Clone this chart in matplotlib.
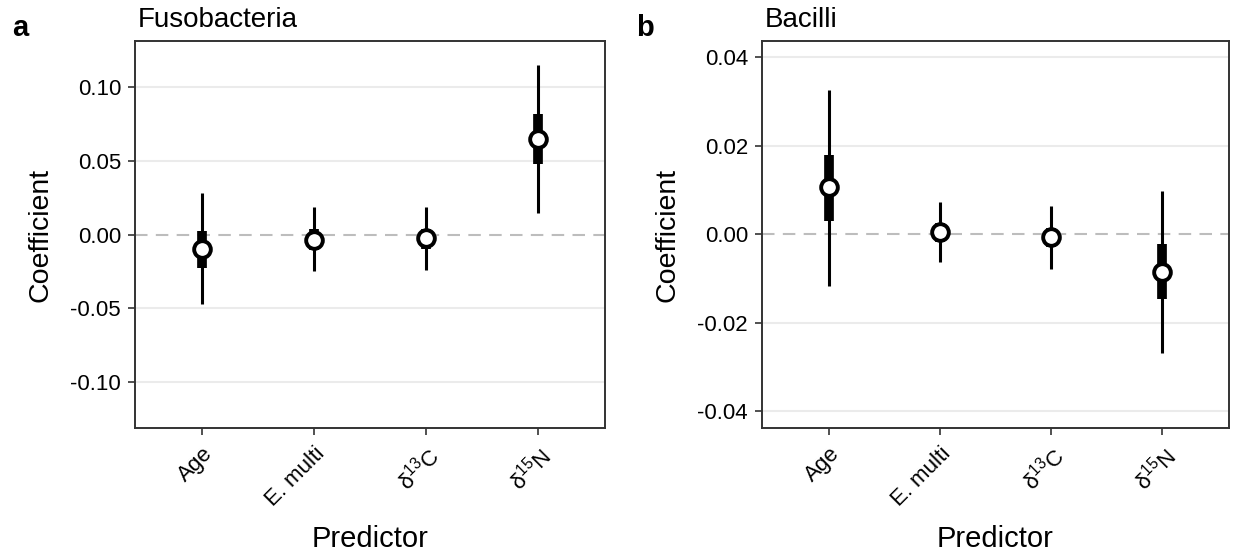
import matplotlib
matplotlib.use("Agg")
import matplotlib.pyplot as plt

plt.rcParams['font.family'] = ['Liberation Sans', 'DejaVu Sans']
plt.rcParams['mathtext.default'] = 'regular'

# predictors (x axis)
predictors = ['Age', 'E. multi', r'δ$^{13}$C', r'δ$^{15}$N']

# panel a: Fusobacteria
fuso_mid = [-0.0098, -0.0034, -0.0025, 0.0652]
fuso_lo50 = [-0.0225, -0.0107, -0.0095, 0.0482]
fuso_hi50 = [0.0024, 0.0040, 0.0040, 0.0822]
fuso_lo95 = [-0.0474, -0.0249, -0.0238, 0.0147]
fuso_hi95 = [0.0279, 0.0188, 0.0188, 0.1155]

# panel b: Bacilli
baci_mid = [0.0106, 0.0005, -0.0007, -0.0085]
baci_lo50 = [0.0031, -0.0017, -0.0029, -0.0147]
baci_hi50 = [0.0179, 0.0025, 0.0014, -0.0023]
baci_lo95 = [-0.0116, -0.0063, -0.0078, -0.0269]
baci_hi95 = [0.0326, 0.0074, 0.0065, 0.0099]

panels = [
    dict(title='Fusobacteria', letter='a', mid=fuso_mid, lo50=fuso_lo50, hi50=fuso_hi50,
         lo95=fuso_lo95, hi95=fuso_hi95, ylim=(-0.1315, 0.1315),
         yticks=[-0.10, -0.05, 0.0, 0.05, 0.10], pos=[0.1095, 0.2246, 0.3812, 0.701],
         letter_x=12 / 1233),
    dict(title='Bacilli', letter='b', mid=baci_mid, lo50=baci_lo50, hi50=baci_hi50,
         lo95=baci_lo95, hi95=baci_hi95, ylim=(-0.0438, 0.0437),
         yticks=[-0.04, -0.02, 0.0, 0.02, 0.04], pos=[0.618, 0.2246, 0.3788, 0.701],
         letter_x=636 / 1233),
]

fig = plt.figure(figsize=(12.33, 5.52), dpi=100)

for p in panels:
    ax = fig.add_axes(p['pos'])
    x = list(range(1, len(predictors) + 1))
    for yt in p['yticks']:
        if yt != 0:
            ax.axhline(yt, color='#ebebeb', lw=1.5, zorder=0)
    ax.axhline(0, color='#bdbdbd', lw=1.5, ls=(0, (6, 4)), zorder=1)
    ax.vlines(x, p['lo95'], p['hi95'], color='black', lw=2.2, zorder=2)
    ax.vlines(x, p['lo50'], p['hi50'], color='black', lw=7, zorder=3)
    ax.plot(x, p['mid'], 'o', ms=12, mfc='white', mec='black', mew=2.8, zorder=4)

    ax.set_xlim(0.4, 4.6)
    ax.set_ylim(*p['ylim'])
    ax.set_yticks(p['yticks'])
    ax.set_yticklabels([f'{v:.2f}' for v in p['yticks']])
    ax.set_xticks(x)
    ax.set_xticklabels(predictors, rotation=45, ha='right', va='top', rotation_mode='anchor')
    ax.tick_params(axis='both', labelsize=16, color='#333333', width=1.2, length=5,
                   labelcolor='black')
    ax.tick_params(axis='x', pad=6)
    ax.tick_params(axis='y', pad=5)
    for s in ax.spines.values():
        s.set_color('#333333')
        s.set_linewidth(1.4)
    ax.set_xlabel('Predictor', fontsize=21, labelpad=10)
    ax.set_ylabel('Coefficient', fontsize=20.5, labelpad=12)
    ax.text(0.006, 1.02, p['title'], transform=ax.transAxes, fontsize=20,
            va='bottom', ha='left')
    fig.text(p['letter_x'], 1 - 36 / 552, p['letter'], fontsize=21,
             fontweight='bold', va='baseline')

fig.savefig('out.png', dpi=100)
